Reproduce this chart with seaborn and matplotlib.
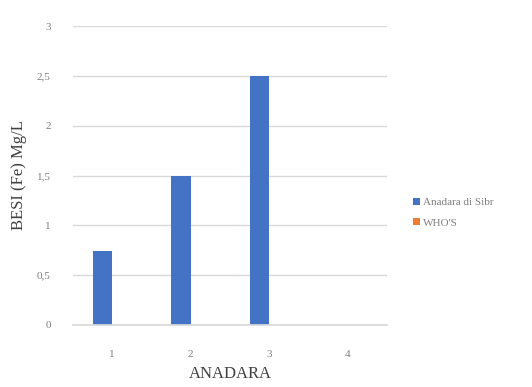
import matplotlib
matplotlib.use("Agg")
import matplotlib.pyplot as plt
import seaborn as sns
import pandas as pd

# Iron concentration per Anadara sample
samples = ["1", "2", "3", "4"]
anadara_values = [0.74, 1.5, 2.5, 0.0]
standard_values = [0.0, 0.0, 0.0, 0.0]
series_names = ["Anadara di Sibr", "WHO'S"]
y_ticks = [0, 0.5, 1, 1.5, 2, 2.5, 3]
y_tick_labels = ["0", "0,5", "1", "1,5", "2", "2,5", "3"]

df = pd.DataFrame({
    "sample": samples * 2,
    "value": anadara_values + standard_values,
    "series": [series_names[0]] * len(samples) + [series_names[1]] * len(samples),
})

sns.set_theme(style="white")
plt.rcParams["font.family"] = ["Liberation Serif", "DejaVu Sans"]

fig = plt.figure(figsize=(5.32, 3.87), dpi=100)
ax = fig.add_axes([73 / 532, 1 - 325 / 387, (387 - 73) / 532, (325 - 26) / 387])

sns.barplot(data=df, x="sample", y="value", hue="series",
            palette=["#4472C4", "#ED7D31"], width=0.5, linewidth=0,
            saturation=1, ax=ax, legend=True)

ax.set_ylim(0, 3)
ax.set_yticks(y_ticks)
ax.set_yticklabels(y_tick_labels)
ax.yaxis.grid(True, color="#D9D9D9", linewidth=1)
ax.set_axisbelow(True)
for side in ["top", "right", "left"]:
    ax.spines[side].set_visible(False)
ax.spines["bottom"].set_color("#D9D9D9")
ax.tick_params(axis="y", length=0, labelsize=8, labelcolor="#7F7F7F", pad=16)
ax.tick_params(axis="x", length=0, labelsize=8, labelcolor="#7F7F7F", pad=18)

ax.set_xlabel("ANADARA", fontsize=12, color="#404040", labelpad=5)
ax.set_ylabel("BESI (Fe) Mg/L", fontsize=12, color="#404040", labelpad=7)

leg = ax.legend(loc="center left", bbox_to_anchor=(1.07, 0.375), frameon=False,
                fontsize=8, handlelength=0.6, handleheight=0.6, handletextpad=0.3,
                labelspacing=1.0, borderaxespad=0)
for t in leg.get_texts():
    t.set_color("#7F7F7F")

fig.savefig("out.png", dpi=100)
